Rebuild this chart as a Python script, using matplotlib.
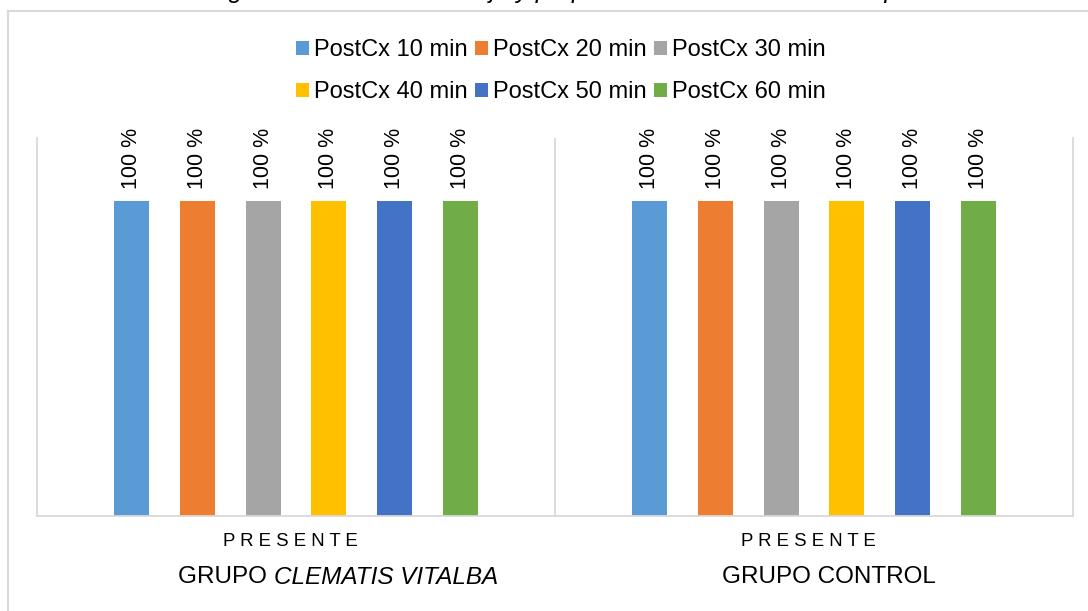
import matplotlib.pyplot as plt
from matplotlib.lines import Line2D
from matplotlib.transforms import offset_copy
import numpy as np

plt.rcParams['font.family'] = ['Liberation Sans', 'DejaVu Sans']

# data
grupos = ["GRUPO ", "GRUPO "]
grupos_it = ["CLEMATIS VITALBA", ""]
grupos_full = ["GRUPO CLEMATIS VITALBA", "GRUPO CONTROL"]
categoria = "PRESENTE"
series = ["PostCx 10 min", "PostCx 20 min", "PostCx 30 min",
          "PostCx 40 min", "PostCx 50 min", "PostCx 60 min"]
valores = [
    [100, 100],
    [100, 100],
    [100, 100],
    [100, 100],
    [100, 100],
    [100, 100],
]
colores = ["#5B9BD5", "#ED7D31", "#A5A5A5", "#FFC000", "#4472C4", "#70AD47"]
titulo = "Frecuencia del signo de cierre total del ojo y párpado en relación con el tiempo"

W, H = 1088, 611
fig = plt.figure(figsize=(W / 100, H / 100), dpi=100)
ax = fig.add_axes([37 / W, (H - 516) / H, 1036 / W, (516 - 138) / H])

gris = "#D9D9D9"
x = np.arange(len(grupos_full))
paso = 0.1268
ancho = 0.0676
for i, (serie, vals) in enumerate(zip(series, valores)):
    off = (i - (len(series) - 1) / 2) * paso
    b = ax.bar(x + off, vals, ancho, color=colores[i], label=serie)
    ax.bar_label(b, labels=[f"{v:.0f} %" for v in vals], rotation=90,
                 padding=9, fontsize=15.5, color="#000000")

ax.set_xlim(-0.5, 1.5)
ax.set_ylim(0, 120)
ax.set_yticks([])
ax.set_xticks([])
ax.spines["top"].set_visible(False)
for s in ["left", "right", "bottom"]:
    ax.spines[s].set_color(gris)
    ax.spines[s].set_linewidth(1.3)
ax.axvline(0.5, color=gris, lw=1.3)

# category labels (two levels)
trans = ax.get_xaxis_transform()
trans_cat = offset_copy(trans, fig=fig, x=-6, units="dots")
for xi in x:
    ax.text(xi, -(541 - 516) / 378, " ".join(categoria), transform=trans_cat,
            ha="center", va="center", fontsize=13.4)

fig.canvas.draw()
r = fig.canvas.get_renderer()
y_g = -(577 - 516) / 378
inv = ax.transData.inverted()
desplaz = [42, 15]  # px shift of the group names
for xi, g, gi in zip(x, grupos, grupos_it):
    t1 = ax.text(0, 0, g if gi else grupos_full[xi], fontsize=17.5)
    t2 = ax.text(0, 0, gi, fontsize=17.5, style="italic")
    w1 = t1.get_window_extent(r).width
    w2 = t2.get_window_extent(r).width if gi else 0
    cx = ax.transData.transform((xi, 0))[0] + desplaz[xi]
    start = cx - (w1 + w2) / 2
    x1 = inv.transform((start, 0))[0]
    x2 = inv.transform((start + w1, 0))[0]
    for t, xx in ((t1, x1), (t2, x2)):
        t.set_position((xx, y_g))
        t.set_transform(trans)
        t.set_va("center")
        t.set_ha("left")

# legend: three per row
h, l = ax.get_legend_handles_labels()
orden = [0, 3, 1, 4, 2, 5]
fig.legend([h[k] for k in orden], [l[k] for k in orden], ncol=3,
           loc="center", bbox_to_anchor=(561 / W, 1 - 71 / H), frameon=False,
           fontsize=17, handlelength=0.55, handleheight=0.55,
           handletextpad=0.23, columnspacing=0.3, labelspacing=0.85,
           borderpad=0)

# chart area border
fig.add_artist(Line2D([8 / W, 8 / W], [0, 1 - 11 / H], color=gris, lw=1.5,
                      transform=fig.transFigure))
fig.add_artist(Line2D([8 / W, 1], [1 - 11 / H, 1 - 11 / H], color=gris, lw=1.5,
                      transform=fig.transFigure))

# caption above the chart, mostly off the page
fig.text(40 / W, 1 + 2 / H, titulo, ha="left", va="baseline",
         fontsize=18, style="italic")

fig.savefig("out.png", dpi=100)
